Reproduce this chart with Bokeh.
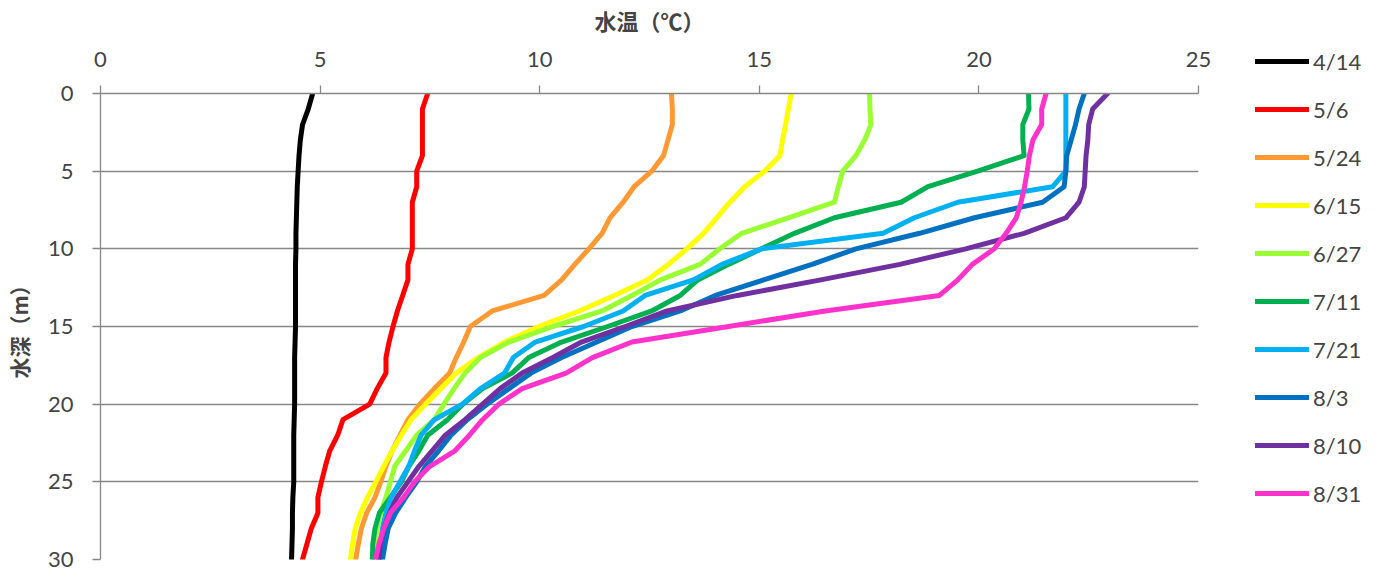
from bokeh.plotting import figure
from bokeh.layouts import row
from bokeh.models import Range1d, FixedTicker, Legend, LegendItem
from bokeh.embed import file_html
from bokeh.resources import INLINE

# ---- data -------------------------------------------------------------
depth = list(range(31))  # 水深 (m)

dates = ["4/14", "5/6", "5/24", "6/15", "6/27", "7/11", "7/21", "8/3", "8/10", "8/31"]

t_0414 = [4.83, 4.73, 4.60, 4.55, 4.52, 4.50, 4.48, 4.47, 4.46, 4.45, 4.45,
          4.44, 4.44, 4.44, 4.44, 4.44, 4.43, 4.42, 4.42, 4.42, 4.42,
          4.41, 4.40, 4.40, 4.40, 4.40, 4.38, 4.37, 4.37, 4.36, 4.35]
t_0506 = [7.45, 7.33, 7.33, 7.33, 7.33, 7.20, 7.20, 7.10, 7.10, 7.10, 7.10,
          7.00, 7.00, 6.88, 6.76, 6.66, 6.57, 6.50, 6.50, 6.30, 6.13,
          5.52, 5.40, 5.22, 5.12, 5.03, 4.95, 4.95, 4.80, 4.70, 4.60]
t_0524 = [13.00, 13.02, 13.02, 12.92, 12.82, 12.55, 12.15, 11.90, 11.60, 11.42, 11.12,
          10.80, 10.50, 10.10, 8.92, 8.42, 8.27, 8.10, 7.95, 7.60, 7.27,
          7.00, 6.82, 6.64, 6.50, 6.38, 6.25, 6.06, 5.94, 5.87, 5.81]
t_0615 = [15.73, 15.66, 15.60, 15.53, 15.47, 15.12, 14.67, 14.33, 14.03, 13.73, 13.35,
          12.93, 12.45, 11.70, 10.90, 9.98, 9.20, 8.60, 8.10, 7.75, 7.40,
          7.07, 6.85, 6.64, 6.45, 6.27, 6.08, 5.92, 5.80, 5.74, 5.69]
t_0627 = [17.51, 17.52, 17.54, 17.40, 17.20, 16.90, 16.80, 16.71, 15.66, 14.60, 14.10,
          13.65, 12.75, 12.10, 11.42, 10.30, 9.30, 8.65, 8.30, 8.05, 7.82,
          7.60, 7.20, 6.95, 6.70, 6.60, 6.50, 6.38, 6.30, 6.25, 6.23]
t_0711 = [21.13, 21.14, 21.00, 21.00, 21.03, 19.97, 18.84, 18.23, 16.71, 15.80, 15.05,
          14.30, 13.60, 13.20, 12.55, 11.55, 10.50, 9.75, 9.37, 8.70, 8.25,
          7.90, 7.45, 7.25, 7.02, 6.85, 6.60, 6.35, 6.25, 6.20, 6.19]
t_0721 = [21.98, 21.98, 21.98, 21.98, 21.98, 21.98, 21.68, 19.52, 18.53, 17.82, 15.05,
          14.15, 13.50, 12.40, 11.90, 11.00, 9.90, 9.40, 9.20, 8.65, 8.24,
          7.60, 7.30, 7.15, 7.02, 6.82, 6.62, 6.50, 6.42, 6.38, 6.37]
t_0803 = [22.40, 22.28, 22.20, 22.10, 22.00, 21.98, 21.94, 21.45, 19.90, 18.65, 17.20,
          16.20, 15.10, 14.00, 13.20, 12.10, 11.30, 10.50, 9.80, 9.30, 8.80,
          8.35, 7.98, 7.70, 7.40, 7.20, 6.95, 6.72, 6.55, 6.48, 6.42]
t_0810 = [22.93, 22.59, 22.50, 22.48, 22.44, 22.42, 22.40, 22.28, 21.98, 21.03, 19.70,
          18.20, 16.40, 14.50, 12.90, 11.95, 10.95, 10.30, 9.60, 9.10, 8.70,
          8.30, 7.85, 7.55, 7.25, 7.00, 6.75, 6.58, 6.45, 6.37, 6.34]
t_0831 = [21.53, 21.43, 21.43, 21.23, 21.15, 21.10, 21.04, 20.96, 20.85, 20.62, 20.35,
          19.85, 19.52, 19.10, 16.50, 14.30, 12.10, 11.20, 10.60, 9.60, 9.07,
          8.70, 8.40, 8.07, 7.50, 7.15, 6.90, 6.60, 6.45, 6.34, 6.26]

series = [t_0414, t_0506, t_0524, t_0615, t_0627, t_0711, t_0721, t_0803, t_0810, t_0831]
colors = ["#000000", "#FF0000", "#FF9933", "#FFFF00", "#99FF33",
          "#00B050", "#00B0F0", "#0070C0", "#7030A0", "#FF33CC"]

x_ticks = [0, 5, 10, 15, 20, 25]
y_ticks = [0, 5, 10, 15, 20, 25, 30]

# ---- main figure ------------------------------------------------------
TICK_FONT = "Lato"
CJK_FONT = "Noto Sans CJK JP"
AXIS_GRAY = "#878787"
LW = 5

p = figure(width=1215, height=571, output_backend="svg", toolbar_location=None,
           x_range=Range1d(0, 25), y_range=Range1d(30, 0),
           x_axis_location="above",
           min_border_left=98, min_border_top=93, min_border_right=17,
           min_border_bottom=12)
p.outline_line_color = None

xa = p.xaxis[0]
xa.ticker = FixedTicker(ticks=x_ticks)
xa.axis_label = "水温（℃）"
xa.axis_label_text_font = CJK_FONT
xa.axis_label_text_font_style = "bold"
xa.axis_label_text_font_size = "22px"
xa.axis_label_standoff = 13
xa.major_label_text_font = TICK_FONT
xa.major_label_text_font_size = "22px"
xa.major_label_standoff = 19
xa.axis_line_color = AXIS_GRAY
xa.axis_line_width = 1.3
xa.major_tick_line_color = AXIS_GRAY
xa.major_tick_line_width = 1.3
xa.major_tick_out = 8
xa.major_tick_in = 0
xa.minor_tick_line_color = None

ya = p.yaxis[0]
ya.ticker = FixedTicker(ticks=y_ticks)
ya.axis_label = "水深（m）"
ya.axis_label_text_font = CJK_FONT
ya.axis_label_text_font_style = "bold"
ya.axis_label_text_font_size = "21px"
ya.axis_label_standoff = 11
ya.major_label_text_font = TICK_FONT
ya.major_label_text_font_size = "22px"
ya.major_label_standoff = 19
ya.axis_line_color = AXIS_GRAY
ya.axis_line_width = 1.3
ya.major_tick_line_color = AXIS_GRAY
ya.major_tick_line_width = 1.3
ya.major_tick_out = 8
ya.major_tick_in = 0
ya.minor_tick_line_color = None

p.xgrid.grid_line_color = None
p.ygrid.ticker = FixedTicker(ticks=y_ticks)
p.ygrid.grid_line_color = AXIS_GRAY
p.ygrid.grid_line_width = 1.3

for vals, col in zip(series, colors):
    p.line(vals, depth, line_color=col, line_width=LW,
           line_join="round", line_cap="round")

# ---- legend panel (separate canvas so nothing is clipped) -------------
lg = figure(width=161, height=571, output_backend="svg", toolbar_location=None,
            x_range=Range1d(100, 101), y_range=Range1d(30, 0),
            x_axis_location=None, y_axis_location=None,
            min_border_left=0, min_border_right=0, min_border_top=0,
            min_border_bottom=0)
lg.frame_align = False
lg.outline_line_color = None
lg.grid.visible = False

items = []
for name, vals, col in zip(dates, series, colors):
    r = lg.line(vals, depth, line_color=col, line_width=LW,
                line_join="round", line_cap="round")
    items.append(LegendItem(label=name, renderers=[r]))

legend = Legend(items=items, location=(40, 58))
legend.orientation = "vertical"
legend.padding = 0
legend.margin = 0
legend.spacing = 8
legend.glyph_width = 54
legend.glyph_height = 40
legend.label_height = 40
legend.label_standoff = 4
legend.label_text_font = TICK_FONT
legend.label_text_font_size = "22px"
legend.border_line_color = None
legend.background_fill_alpha = 0
lg.add_layout(legend, "center")

layout = row(p, lg)
open("out.html", "w").write(file_html(layout, INLINE))
